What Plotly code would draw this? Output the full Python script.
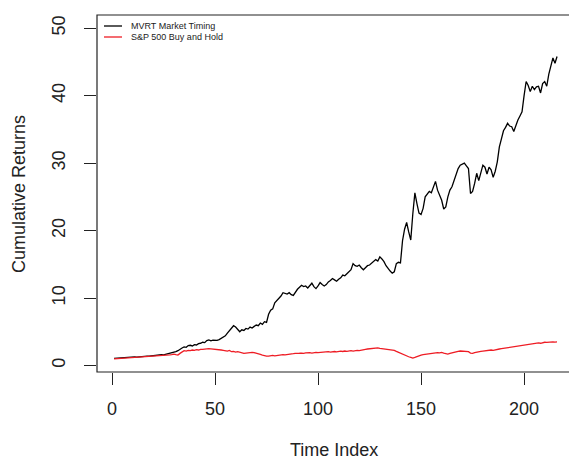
import plotly.graph_objects as go

# ---- data ----
mvrt = [
    1.05, 1.08, 1.10, 1.12, 1.10, 1.15, 1.18, 1.16, 1.20, 1.24,
    1.27, 1.25, 1.30, 1.34, 1.32, 1.37, 1.40, 1.38, 1.43, 1.47,
    1.50, 1.48, 1.55, 1.60, 1.58, 1.65, 1.72, 1.75, 1.80, 1.92,
    2.05, 2.20, 2.45, 2.60, 2.75, 2.70, 2.95, 3.00, 2.90, 3.10,
    3.05, 3.25, 3.30, 3.45, 3.40, 3.70, 3.80, 3.65, 3.75, 3.70,
    3.72, 3.85, 4.05, 4.20, 4.40, 4.80, 5.20, 5.60, 5.90, 5.70,
    5.40, 5.00, 5.30, 5.20, 5.50, 5.40, 5.70, 5.55, 5.80, 6.00,
    5.90, 6.30, 6.10, 6.50, 6.40, 7.60, 8.20, 8.40, 9.30, 9.60,
    9.90, 10.30, 10.80, 10.70, 10.60, 10.80, 10.50, 10.40, 10.90, 11.30,
    11.60, 11.90, 11.70, 11.80, 11.50, 11.90, 12.20, 11.70, 11.40, 11.80,
    12.30, 12.00, 11.80, 12.00, 12.40, 12.60, 12.90, 12.70, 12.50, 12.80,
    13.00, 13.40, 13.30, 13.60, 13.90, 14.20, 15.10, 14.80, 14.70, 14.90,
    14.50, 14.20, 14.50, 14.80, 14.90, 15.20, 15.40, 15.70, 15.50, 16.10,
    15.80, 15.40, 14.80, 14.30, 14.00, 13.70, 13.90, 15.10, 15.30, 15.20,
    18.50, 20.20, 21.20, 19.80, 18.60, 22.50, 25.60, 24.00, 22.60, 22.40,
    23.30, 25.00, 25.50, 25.80, 25.60, 26.60, 27.30, 26.00, 25.20, 24.50,
    23.20, 23.50, 25.00, 26.00, 26.50, 27.50, 28.50, 29.20, 29.70, 29.80,
    30.00, 29.60, 29.20, 25.50, 25.80, 27.00, 28.50, 27.40, 28.80, 29.70,
    29.40, 28.40, 29.40, 29.00, 27.90, 28.80, 30.20, 32.40, 33.60, 34.80,
    35.30, 35.90, 35.50, 35.40, 34.70, 35.60, 36.40, 37.00, 37.60, 40.00,
    42.10, 41.50, 40.60, 41.40, 40.90, 41.30, 41.40, 40.40, 41.80, 42.10,
    41.40, 43.20, 44.60, 45.60, 44.80, 45.80,
]

sp500 = [
    1.00, 1.02, 1.04, 1.05, 1.03, 1.07, 1.09, 1.08, 1.11, 1.14,
    1.16, 1.15, 1.19, 1.22, 1.20, 1.25, 1.28, 1.26, 1.31, 1.34,
    1.36, 1.35, 1.40, 1.45, 1.43, 1.50, 1.55, 1.58, 1.62, 1.70,
    1.62, 1.55, 1.80, 2.05, 2.20, 2.15, 2.25, 2.20, 2.30, 2.25,
    2.35, 2.30, 2.40, 2.38, 2.45, 2.42, 2.50, 2.48, 2.45, 2.50,
    2.40, 2.35, 2.30, 2.25, 2.20, 2.15, 2.25, 2.05, 2.10, 2.00,
    2.05, 1.95, 1.85, 1.80, 1.85, 1.90, 1.85, 1.95, 1.90, 1.85,
    1.75, 1.65, 1.55, 1.45, 1.40, 1.38, 1.45, 1.50, 1.42, 1.48,
    1.52, 1.55, 1.60, 1.58, 1.65, 1.70, 1.68, 1.75, 1.80, 1.78,
    1.82, 1.85, 1.80, 1.88, 1.92, 1.90, 1.85, 1.92, 1.95, 1.90,
    1.95, 2.00, 1.98, 2.02, 2.05, 2.00, 2.05, 2.08, 2.02, 2.10,
    2.12, 2.08, 2.15, 2.10, 2.18, 2.20, 2.15, 2.22, 2.25, 2.20,
    2.30, 2.35, 2.40, 2.45, 2.50, 2.55, 2.60, 2.58, 2.62, 2.55,
    2.50, 2.45, 2.40, 2.42, 2.35, 2.30, 2.25, 2.10, 1.95, 1.80,
    1.65, 1.50, 1.40, 1.30, 1.20, 1.10, 1.20, 1.35, 1.45, 1.55,
    1.60, 1.65, 1.70, 1.75, 1.80, 1.78, 1.85, 1.90, 1.88, 1.95,
    1.85, 1.75, 1.70, 1.80, 1.90, 2.00, 2.05, 2.10, 2.15, 2.12,
    2.20, 2.15, 2.05, 1.85, 1.80, 1.90, 2.00, 2.05, 2.10, 2.15,
    2.20, 2.15, 2.25, 2.30, 2.25, 2.35, 2.40, 2.45, 2.50, 2.55,
    2.60, 2.65, 2.70, 2.75, 2.80, 2.85, 2.90, 2.95, 3.00, 3.05,
    3.10, 3.05, 3.15, 3.20, 3.25, 3.30, 3.35, 3.30, 3.40, 3.45,
    3.42, 3.48, 3.50, 3.52, 3.48, 3.50,
]

time_index = list(range(1, len(mvrt) + 1))
series_names = ["MVRT Market Timing", "S&P 500 Buy and Hold"]
series_colors = ["#000000", "#ee1c24"]
x_ticks = [0, 50, 100, 150, 200]
y_ticks = [0, 10, 20, 30, 40, 50]
x_title = "Time Index"
y_title = "Cumulative Returns"

# ---- layout geometry (pixels) ----
W, H = 569, 459
ML, MR, MT, MB = 97, 0, 15, 87
PW, PH = W - ML - MR, H - MT - MB
FONT = "Liberation Sans, Arial, Helvetica, sans-serif"


def px_x(px):
    return (px - ML) / PW


def px_y(py):
    return (H - MB - py) / PH


fig = go.Figure()
fig.add_trace(go.Scatter(x=time_index, y=mvrt, mode="lines", name=series_names[0],
                         line=dict(color=series_colors[0], width=1.3), showlegend=False))
fig.add_trace(go.Scatter(x=time_index, y=sp500, mode="lines", name=series_names[1],
                         line=dict(color=series_colors[1], width=1.3), showlegend=False))

fig.update_layout(
    width=W, height=H,
    margin=dict(l=ML, r=MR, t=MT, b=MB, pad=0),
    paper_bgcolor="white", plot_bgcolor="white",
    font=dict(family=FONT, size=18, color="#222222"),
    xaxis=dict(range=[-7.28, 221.8], tickvals=x_ticks, ticks="outside", ticklen=12,
               tickcolor="#222222", tickwidth=1, showgrid=False, zeroline=False,
               showline=False, ticklabelstandoff=8, tickfont=dict(size=18)),
    yaxis=dict(range=[-0.96, 51.96], tickvals=y_ticks, ticks="outside", ticklen=12,
               tickcolor="#222222", tickwidth=1, showgrid=False, zeroline=False,
               showline=False, tickangle=-90, ticklabelstandoff=12, tickfont=dict(size=18)),
)

# plot box (right edge falls just outside the image, as in the reference)
fig.add_shape(type="rect", xref="paper", yref="paper", x0=0, x1=1.02, y0=0, y1=1,
              line=dict(color="#222222", width=1.2), layer="above")

# axis titles
fig.add_annotation(text=x_title, xref="paper", yref="paper", x=px_x(334), y=px_y(450),
                   showarrow=False, font=dict(size=18), xanchor="center", yanchor="middle")
fig.add_annotation(text=y_title, xref="paper", yref="paper", x=px_x(19), y=px_y(194),
                   showarrow=False, font=dict(size=18), textangle=-90,
                   xanchor="center", yanchor="middle")

# legend (top-left, no border)
leg_rows = [26, 37]
for name, col, py in zip(series_names, series_colors, leg_rows):
    fig.add_shape(type="line", xref="paper", yref="paper",
                  x0=px_x(104), x1=px_x(122), y0=px_y(py), y1=px_y(py),
                  line=dict(color=col, width=1.3))
    fig.add_annotation(text=name, xref="paper", yref="paper", x=px_x(129), y=px_y(py),
                       showarrow=False, xanchor="left", yanchor="middle",
                       font=dict(size=9, color="#222222"))

fig.write_html("out.html")
